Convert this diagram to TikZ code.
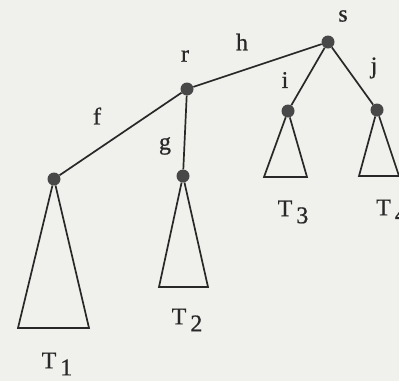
\documentclass[tikz,border=0pt]{standalone}
\usepackage{fontspec}
\setmainfont{Liberation Serif}
\newfontfamily\labelfont[FakeBold=0.8]{Liberation Serif}
\definecolor{paper}{RGB}{240,240,236}
\definecolor{ink}{RGB}{40,40,40}
\begin{document}
\begin{tikzpicture}[x=1pt,y=-1pt,
  dot/.style={circle,fill=ink!85,inner sep=0pt,minimum size=13pt},
  edge/.style={line width=1.7pt,draw=ink},
  tri/.style={line width=1.7pt,draw=ink,line join=miter},
  lbl/.style={inner sep=0pt,text=ink,font=\labelfont\fontsize{24}{28}\selectfont}]
\fill[paper] (0,0) rectangle (399,381);
\useasboundingbox (0,0) rectangle (399,381);
% vertices
\node[dot] (s) at (328,42) {};
\node[dot] (r) at (187,89) {};
\node[dot] (a) at (54,179) {};
\node[dot] (b) at (183,176) {};
\node[dot] (c) at (288,111) {};
\node[dot] (d) at (377,110) {};
% base corners
\coordinate (a1) at (18,328);
\coordinate (a2) at (89,328);
\coordinate (b1) at (159,287);
\coordinate (b2) at (208,287);
\coordinate (c1) at (264,177);
\coordinate (c2) at (307,177);
\coordinate (d1) at (359,176);
\coordinate (d2) at (399,176);
% edges
\draw[edge] (s) -- (r);
\draw[edge] (r) -- (a);
\draw[edge] (r) -- (b);
\draw[edge] (s) -- (c);
\draw[edge] (s) -- (d);
% subtrees
\draw[tri] (a) -- (a1) -- (a2) -- (a);
\draw[tri] (b) -- (b1) -- (b2) -- (b);
\draw[tri] (c) -- (c1) -- (c2) -- (c);
\draw[tri] (d) -- (d1) -- (d2) -- (d);
% labels
\node[lbl] (ls) at (343,16) {s};
\node[lbl] (lh) at (242,42) {h};
\node[lbl] (lr) at (185,56) {r};
\node[lbl] (li) at (285,80) {i};
\node[lbl] (lj) at (374,68) {j};
\node[lbl] (lf) at (97,116) {f};
\node[lbl] (lg) at (165,146) {g};
\node[lbl] (t1) at (57,364) {T\,\raisebox{-7pt}{1}};
\node[lbl] (t2) at (187,320) {T\,\raisebox{-7pt}{2}};
\node[lbl] (t3) at (293,212) {T\,\raisebox{-7pt}{3}};
\node[lbl,anchor=west] (t4) at (376,211) {T\,\raisebox{-7pt}{4}};
\end{tikzpicture}
\end{document}
